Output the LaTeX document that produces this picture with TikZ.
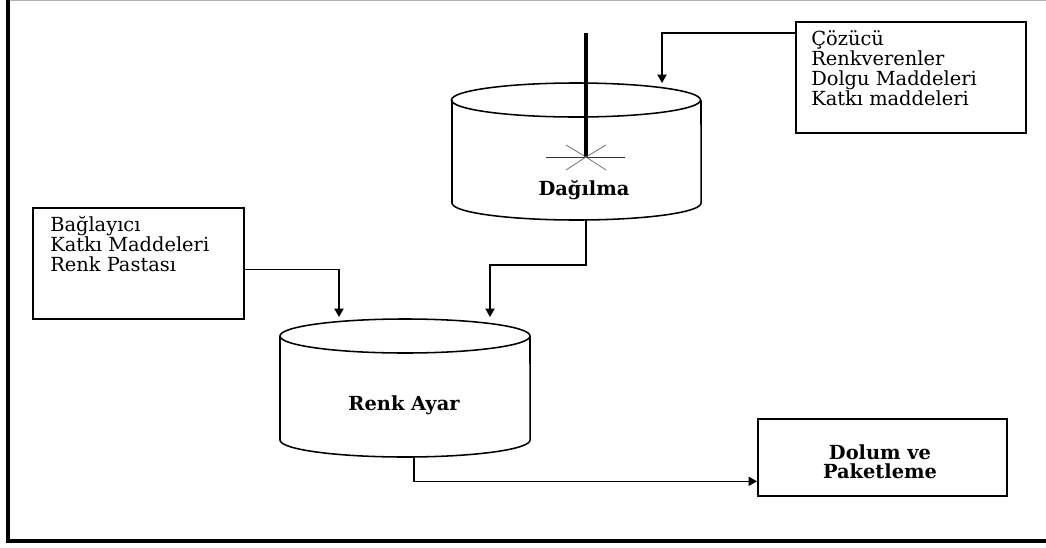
\documentclass[tikz,border=0pt]{standalone}
\usepackage{fontspec}
\setmainfont{DejaVu Serif}
\usepackage{tikz}
\usetikzlibrary{shapes,arrows}
\usetikzlibrary{positioning}
\usetikzlibrary{arrows.meta}

\tikzset{
	box/.style={draw, line width=1.1pt, inner sep=0pt},
	listtext/.style={align=left, font=\fontsize{13.8}{14.2}\selectfont, inner sep=0pt, anchor=north west},
	tanklabel/.style={font=\fontsize{13.8}{13.6}\selectfont\bfseries},
	flow/.style={line width=1.1pt, -{Triangle[length=6pt,width=6.5pt]}},
	tank/.style={line width=1.1pt}
}

\begin{document}
\begin{tikzpicture}[x=0.025cm, y=-0.025cm]
	\useasboundingbox (0,0) rectangle (1046,547);
	% frame
	\draw[gray!60, line width=0.7pt] (8,0.5) -- (1046,0.5);
	\draw[line width=2.4pt] (8,0) -- (8,541) -- (1046,541);

	% dispersion tank
	\draw[tank] (576,100) ellipse [x radius=3.1125cm, y radius=0.425cm];
	\draw[tank] (452,100) -- (452,203) arc [start angle=180, end angle=360, x radius=3.1125cm, y radius=0.425cm] -- (701,100);
	\coordinate (hub) at (586,157);
	\draw[line width=2.8pt] (586,33) -- (hub);
	\draw[line width=0.7pt, black!80]
	(hub) -- ++(-40,0)
	(hub) -- ++(39,0)
	;
	\draw[line width=0.5pt, black!60]
	(hub) -- ++(-20,-12)
	(hub) -- ++(20,-12)
	(hub) -- ++(-20,13)
	(hub) -- ++(20,13)
	;
	\node[tanklabel] (dag) at (584,190) {Dağılma};
	\coordinate (dagIn) at (662,83);
	\coordinate (dagOut) at (586,220);

	% colour adjustment tank
	\draw[tank] (405,336) ellipse [x radius=3.125cm, y radius=0.425cm];
	\draw[tank] (280,336) -- (280,440) arc [start angle=180, end angle=360, x radius=3.125cm, y radius=0.425cm] -- (530,336);
	\node[tanklabel] (ayar) at (404,405) {Renk Ayar};
	\coordinate (ayarInA) at (339,317);
	\coordinate (ayarInB) at (490,317);
	\coordinate (ayarOut) at (414,457);

	% boxes
	\node[box, anchor=north west, minimum width=5.75cm, minimum height=2.775cm] (katki) at (795,21) {};
	\node[listtext] (katkiText) at (811,30) {Çözücü\\Renkverenler\\Dolgu Maddeleri\\Katkı maddeleri};
	\node[box, anchor=north west, minimum width=5.275cm, minimum height=2.775cm] (baglayici) at (32,207) {};
	\node[listtext] (baglayiciText) at (50,216) {Bağlayıcı\\Katkı Maddeleri\\Renk Pastası};
	\node[box, anchor=north west, minimum width=6.225cm, minimum height=1.925cm] (dolum) at (757,418) {};
	\node[tanklabel, align=center] (dolumText) at (880,462) {Dolum ve\\Paketleme};

	% connectors
	\draw[flow] ([yshift=-0.3cm]katki.north west) -| (dagIn);
	\draw[flow] (dagOut) -- ++(0,45) -| (ayarInB);
	\draw[flow] ([yshift=-0.15cm]baglayici.east) -| (ayarInA);
	\draw[flow] (ayarOut) |- ([yshift=-0.6cm]dolum.west);
\end{tikzpicture}
\end{document}
